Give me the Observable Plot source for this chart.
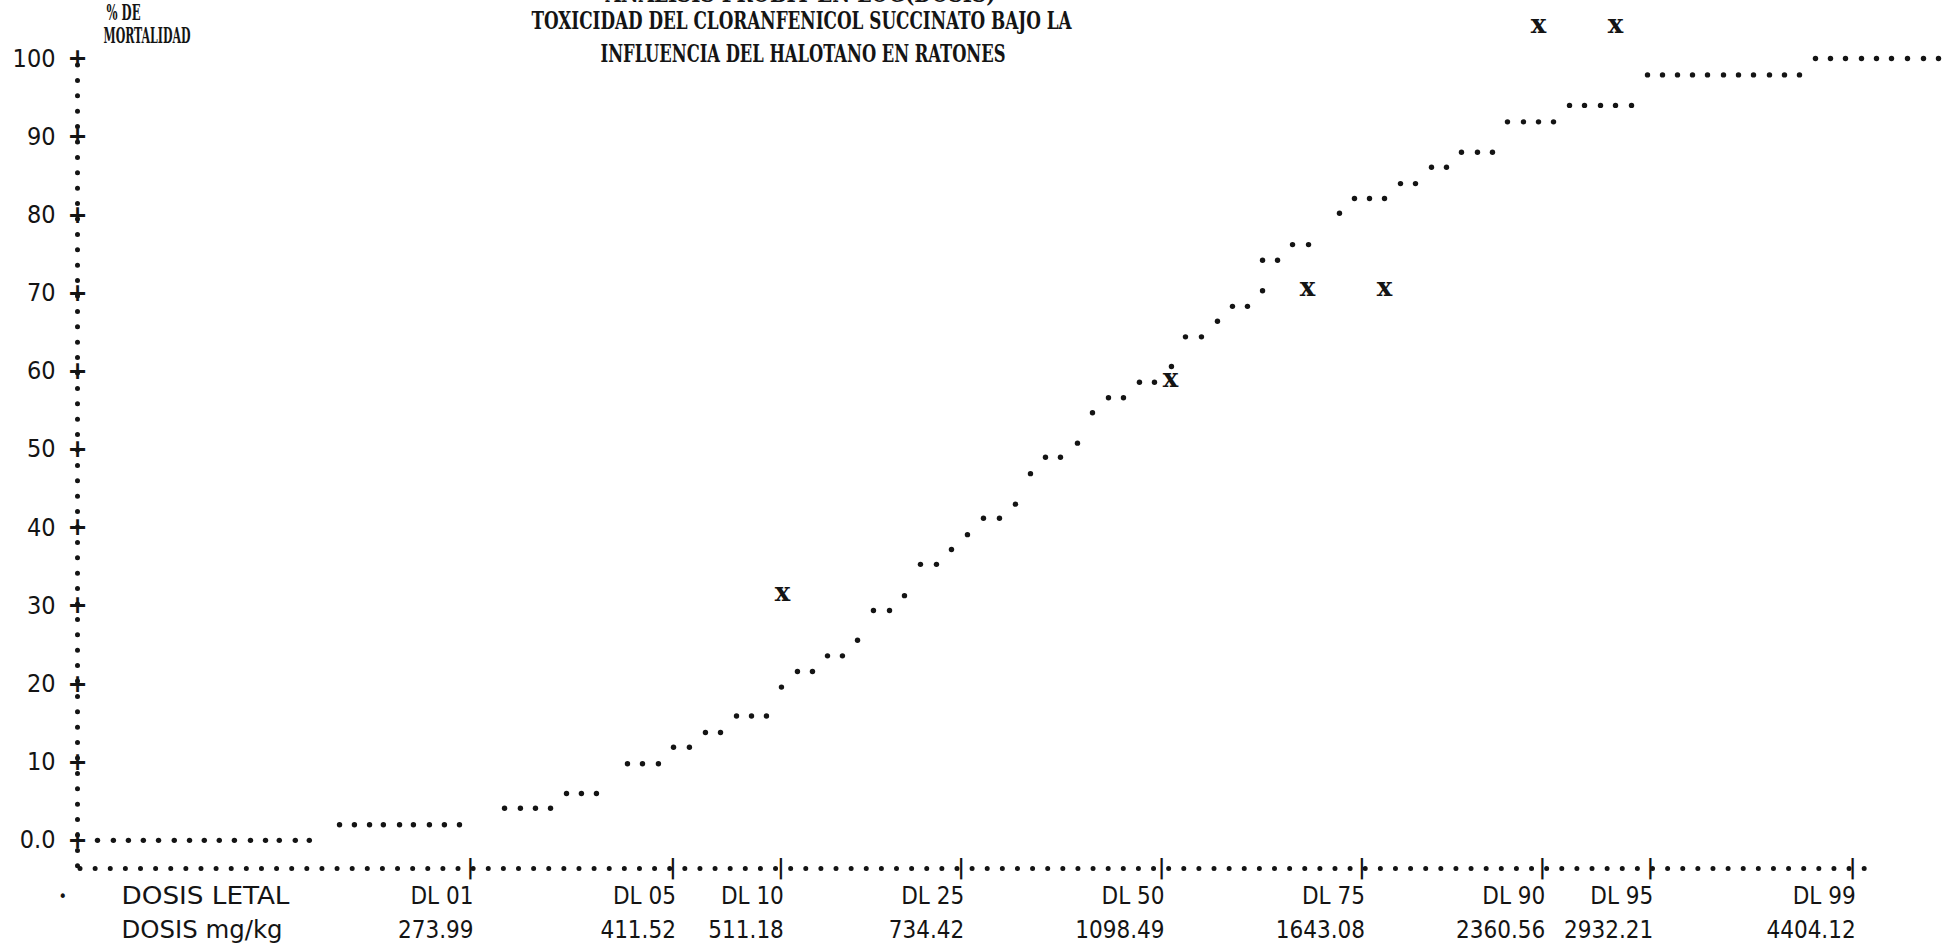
<!DOCTYPE html>
<html>
<head>
<meta charset="utf-8">
<script src="https://cdn.jsdelivr.net/npm/d3@7"></script>
<script src="https://cdn.jsdelivr.net/npm/@observablehq/plot@0.6"></script>
<style>
  html, body { margin: 0; padding: 0; background: #fff; }
  #chart svg { display: block; }
</style>
</head>
<body>
<div id="chart"></div>
<script>
// ---------- texts ----------
const titleLines = [
  "ANALISIS PROBIT EN LOG(DOSIS)",
  "TOXICIDAD DEL CLORANFENICOL SUCCINATO BAJO LA",
  "INFLUENCIA DEL HALOTANO EN RATONES"
];
const yTitleLines = ["% DE", "MORTALIDAD"];
const rowHeaders = ["DOSIS LETAL", "DOSIS mg/kg"];

// ---------- y axis (% de mortalidad) ----------
const yTickValues = [0, 10, 20, 30, 40, 50, 60, 70, 80, 90, 100];
const yTickLabels = ["0.0", "10", "20", "30", "40", "50", "60", "70", "80", "90", "100"];

// ---------- x axis (dosis letales, log scale) ----------
const dlLabels = ["DL 01", "DL 05", "DL 10", "DL 25", "DL 50", "DL 75", "DL 90", "DL 95", "DL 99"];
const dlDoses = [273.99, 411.52, 511.18, 734.42, 1098.49, 1643.08, 2360.56, 2932.21, 4404.12];
const dlDoseLabels = ["273.99", "411.52", "511.18", "734.42", "1098.49", "1643.08", "2360.56", "2932.21", "4404.12"];

// ---------- fitted probit curve, printed row by row (% mortality, doses mg/kg) ----------
const rowPct = [0, 2.0, 4.1, 6.0, 9.8, 11.9, 13.8, 15.9, 19.6, 21.6, 23.6, 25.6, 29.4, 31.3, 35.3, 37.2,
  39.1, 41.2, 43.0, 46.9, 49.0, 50.8, 54.7, 56.6, 58.6, 60.6, 64.4, 66.4, 68.3, 70.3, 74.2, 76.2,
  80.2, 82.1, 84.0, 86.1, 88.0, 91.9, 94.0, 97.9, 100];
const rowDoses = [
  [129.5, 133.7, 137.8, 142.0, 146.4, 151.1, 155.8, 160.5, 165.4, 170.5, 176.1, 181.5, 186.6, 192.7, 198.2],
  [210.6, 217.0, 223.7, 230.0, 237.6, 244.3, 252.3, 260.0, 268.0],
  [293.4, 302.9, 312.2, 321.8],
  [332.3, 342.4, 352.9],
  [375.6, 387.1, 399.7],
  [412.0, 425.4],
  [439.3, 452.8],
  [467.6, 481.9, 496.6],
  [511.8],
  [528.5, 544.7],
  [561.4, 578.5],
  [596.3],
  [615.7, 635.9],
  [655.3],
  [676.7, 698.8],
  [720.2],
  [743.7],
  [768.0, 793.1],
  [819.0],
  [844.1],
  [869.9, 896.5],
  [927.7],
  [956.1],
  [987.3, 1017.5],
  [1050.7, 1082.9],
  [1120.5],
  [1152.5, 1190.1],
  [1229.0],
  [1266.6, 1305.4],
  [1345.5],
  [1345.5, 1386.7],
  [1429.1, 1475.8],
  [1570.5],
  [1618.5, 1668.1, 1719.2],
  [1775.3, 1829.6],
  [1889.4, 1947.2],
  [2006.7, 2072.2, 2135.6],
  [2201.0, 2273.0, 2342.6, 2414.3],
  [2493.2, 2569.5, 2653.4, 2734.6, 2824.0],
  [2916.2, 3005.4, 3097.3, 3192.1, 3289.8, 3397.1, 3501.1, 3608.2, 3726.0, 3840.0, 3957.5],
  [4086.8, 4211.8, 4340.8, 4482.6, 4619.8, 4761.2, 4916.7, 5077.3, 5232.7]
];

// ---------- observed mortality (X marks) ----------
const obsDose = [512.9, 1118.3, 1472.9, 1719.2, 2342.6, 2734.6];
const obsPct = [31.7, 59.1, 70.7, 70.7, 104.3, 104.3];

// ---------- scale extents ----------
const xMin = 124.4, xMax = 4592.1;   // dose at the vertical axis / end of the dotted x row
const yFloor = -3.6;                 // printed row of the x axis, just below 0 %

// ---------- tables ----------
const curve = rowPct.flatMap((p, i) => rowDoses[i].map(d => ({dose: d, pct: p})));
const observed = obsDose.map((d, i) => ({dose: d, pct: obsPct[i]}));
const dl = dlDoses.map((d, i) => ({dose: d, name: dlLabels[i], value: dlDoseLabels[i]}));

const INK = "#141414";
const SANS = "'DejaVu Sans Condensed', 'DejaVu Sans', sans-serif";
const SERIF = "'DejaVu Serif Condensed', 'DejaVu Serif', serif";

// one-line text anchored to the frame
function label(str, frameAnchor, dx, dy, opts = {}) {
  return Plot.text([str], {text: d => d, frameAnchor, lineAnchor: "middle", dx, dy, fill: INK, ...opts});
}
const titleStyle = {textAnchor: "middle", fontFamily: SERIF, fontSize: 24, fontWeight: "bold"};
const yTitleStyle = {textAnchor: "start", fontFamily: SERIF, fontSize: 23, fontWeight: "bold"};

const chart = Plot.plot({
  width: 1951,
  height: 945,
  marginLeft: 77,
  marginRight: 78,
  marginTop: 58,
  marginBottom: 77,
  style: {fontFamily: SANS, fontSize: "24px", color: INK, background: "#fff", overflow: "visible"},
  x: {type: "log", domain: [xMin, xMax], axis: null},
  y: {domain: [yFloor, 100]},
  marks: [
    // dotted printer axes
    Plot.ruleX([xMin], {stroke: INK, strokeWidth: 5, strokeLinecap: "round",
      strokeDasharray: "0 15.4", strokeDashoffset: 8.4}),
    Plot.ruleY([yFloor], {stroke: INK, strokeWidth: 5, strokeLinecap: "round",
      strokeDasharray: "0 15.12", strokeDashoffset: 12.1}),
    // y axis: "+" ticks and labels
    Plot.text(yTickValues, {y: d => d, frameAnchor: "left", textAnchor: "middle", lineAnchor: "middle",
      text: () => "+", fontFamily: "'DejaVu Sans', sans-serif", fontSize: 24, fontWeight: "bold", fill: INK}),
    Plot.axisY({ticks: yTickValues, tickSize: 0, tickPadding: 22, label: null,
      tickFormat: d => yTickLabels[yTickValues.indexOf(d)], fontSize: 25, fill: INK}),
    // x axis tick glyphs and labels
    Plot.text(dl, {x: "dose", frameAnchor: "bottom", lineAnchor: "middle", text: () => "|",
      fontSize: 22, fontWeight: "bold", fill: INK, dy: -2}),
    Plot.text(dl, {x: "dose", frameAnchor: "bottom", lineAnchor: "middle", text: "name", textAnchor: "end",
      dx: 3, dy: 28, fontSize: 24, fill: INK}),
    Plot.text(dl, {x: "dose", frameAnchor: "bottom", lineAnchor: "middle", text: "value", textAnchor: "end",
      dx: 3, dy: 61.5, fontSize: 24, fill: INK}),
    label(rowHeaders[0], "bottom-left", 44, 28, {textAnchor: "start", fontSize: 24}),
    label(rowHeaders[1], "bottom-left", 44, 61.5, {textAnchor: "start", fontSize: 24}),
    label("•", "bottom-left", -19, 28, {fontSize: 16}),
    // fitted curve (printed dots)
    Plot.dot(curve, {x: "dose", y: "pct", r: 2.7, fill: INK, stroke: "none"}),
    // observed points
    Plot.text(observed, {x: "dose", y: "pct", text: () => "x", fontFamily: "'DejaVu Serif', serif",
      fontWeight: "bold", fontSize: 26, fill: INK}),
    // titles
    label(titleLines[0], "top-left", 723, -64, titleStyle),
    label(titleLines[1], "top-left", 724, -37, titleStyle),
    label(titleLines[2], "top-left", 725.5, -4, titleStyle),
    label(yTitleLines[0], "top-left", 29, -46, yTitleStyle),
    label(yTitleLines[1], "top-left", 26, -23, yTitleStyle)
  ]
});

// squeeze the printer texts to their printed widths
const printedWidth = new Map([
  [titleLines[0], 390], [titleLines[1], 540], [titleLines[2], 405],
  [yTitleLines[0], 34], [yTitleLines[1], 87],
  [rowHeaders[0], 168], [rowHeaders[1], 161]
]);
chart.querySelectorAll("text").forEach(t => {
  const w = printedWidth.get(t.textContent);
  if (w) {
    t.setAttribute("textLength", w);
    t.setAttribute("lengthAdjust", "spacingAndGlyphs");
  }
});

document.getElementById("chart").appendChild(chart);
</script>
</body>
</html>
